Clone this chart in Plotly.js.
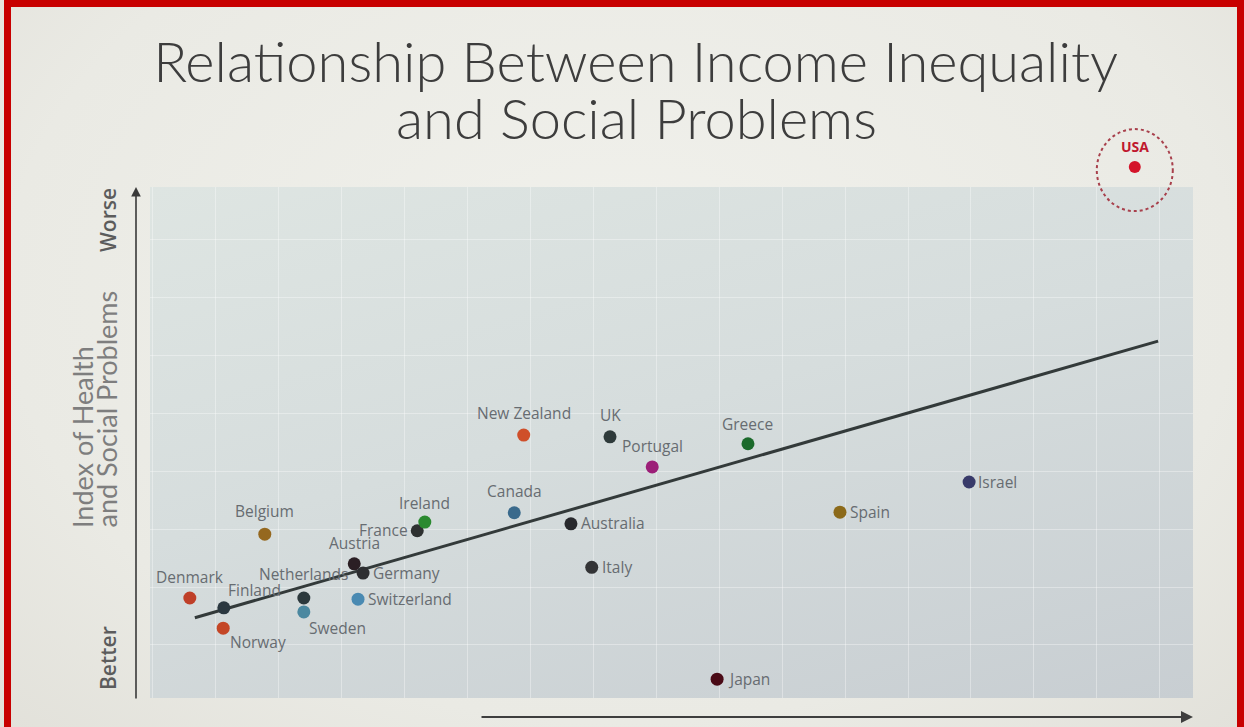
<!DOCTYPE html>
<html>
<head>
<meta charset="utf-8">
<script src="https://cdn.plot.ly/plotly-3.0.1.min.js"></script>
<style>
  html, body { margin:0; padding:0; width:1244px; height:727px; overflow:hidden;
    background: radial-gradient(ellipse at 50% 40%, #f1f1ec 0%, #eaeae4 70%, #e2e1da 100%); }
  #panel { position:absolute; left:150px; top:187px; width:1043px; height:511px;
    background: linear-gradient(165deg, #dee5e2 0%, #d6dddd 45%, #c8ced2 100%); }
  #chart { position:absolute; left:0; top:0; width:1244px; height:727px; }
  #frame { position:absolute; left:4px; top:0; width:1240px; height:727px;
    border-top:7px solid #c80000; border-left:7px solid #c80000; border-right:7px solid #c80000;
    box-sizing:border-box; pointer-events:none; }
</style>
</head>
<body>
<div id="panel"></div>
<div id="chart"></div>
<div id="frame"></div>
<script>
// ---- data (arbitrary index units) ----
const countries = ["Denmark","Finland","Norway","Belgium","Netherlands","Sweden","Austria","Germany",
  "Switzerland","France","Ireland","Canada","New Zealand","UK","Australia","Italy","Portugal",
  "Greece","Japan","Spain","Israel"];
const incomeInequality = [0.60,1.14,1.13,1.79,2.41,2.41,3.21,3.35,3.27,4.21,4.33,5.75,5.90,7.27,6.65,6.98,7.94,9.46,8.97,10.92,12.97];
const socialProblems   = [1.81,1.64,1.29,2.91,1.81,1.57,2.40,2.24,1.79,2.97,3.12,3.28,4.62,4.59,3.09,2.34,4.07,4.47,0.41,3.29,3.81];
const usaName = "USA";
const usaInequality = 15.60;
const usaProblems = 9.24;
const trendX = [0.68, 15.97];
const trendY = [1.47, 6.24];

// ---- styles (colours and label placement, in pixels) ----
const markerColors = ["#bf3f28","#2b3840","#c44626","#95681f","#2c393d","#4b88a0","#2b1f24","#2d2e31",
  "#4a8ab2","#2e3131","#2b8a30","#3a6a8c","#cf4f2a","#2e3a3a","#28292d","#333436","#9c1f78",
  "#1b6a2b","#4a0a16","#8c6a1a","#383a6a"];
const labelAnchor = ["center","left","left","center","center","left","center","left","left","right",
  "center","center","center","center","left","left","center","center","left","left","left"];
const labelDx = [0,2,5,0,0,3,0,8,8,-7,0,0,0,0,8,8,0,0,9,8,7];
const labelDy = [21,18,-14,23,24,-16,21,0,0,1,19,22,22,22,1,0,21,20,0,0,0];

const xRange = [-0.032, 16.524];
const yRange = [0.086, 8.897];
// plot region: x 150..1193, y 120..698 ; panel (main y axis) y 187..698
const plotH = 578, panelH = 511, plotW = 1043;
const y2Range = [yRange[0], yRange[0] + (yRange[1]-yRange[0]) * plotH / panelH];
const px2paperX = px => (px - 150) / plotW;
const px2paperY = py => (698 - py) / plotH;

const labelFont = {family:"Open Sans, sans-serif", size:15.5, color:"#676c71"};

const traces = [
  { type:"scatter", mode:"lines", x:trendX, y:trendY, hoverinfo:"skip",
    line:{color:"#333a3a", width:3}, showlegend:false },
  { type:"scatter", mode:"markers", x:incomeInequality, y:socialProblems, text:countries,
    showlegend:false, marker:{size:13, color:markerColors} },
  { type:"scatter", mode:"markers", x:[usaInequality], y:[usaProblems], text:[usaName],
    xaxis:"x2", yaxis:"y2", showlegend:false, marker:{size:12, color:"#d4142a"} }
];

const countryLabels = countries.map((c, i) => ({
  text:c, x:incomeInequality[i], y:socialProblems[i], xref:"x", yref:"y",
  xanchor:labelAnchor[i], yanchor:"middle", xshift:labelDx[i], yshift:labelDy[i],
  showarrow:false, font:labelFont
}));

const xu = (xRange[1]-xRange[0]) / plotW;     // data units per pixel (x)
const yu = (y2Range[1]-y2Range[0]) / plotH;   // data units per pixel (y2)

const layout = {
  width:1244, height:727,
  margin:{l:150, r:51, t:120, b:29},
  paper_bgcolor:"rgba(0,0,0,0)", plot_bgcolor:"rgba(0,0,0,0)",
  title:{ text:"Relationship Between Income Inequality", x:0.511, xanchor:"center",
    y:1-62/727, yanchor:"middle",
    font:{family:"Lato, sans-serif", size:56, color:"#3d3d3d", weight:300} },
  xaxis:{ domain:[0,1], range:xRange, dtick:1, tick0:0, showticklabels:false, zeroline:false, showline:false,
    showgrid:true, gridcolor:"rgba(255,255,255,0.35)", gridwidth:1, ticks:"", anchor:"y" },
  yaxis:{ domain:[0, panelH/plotH], range:yRange, dtick:1, tick0:0, showticklabels:false, zeroline:false,
    showline:false, showgrid:true, gridcolor:"rgba(255,255,255,0.35)", gridwidth:1, ticks:"", anchor:"x" },
  xaxis2:{ domain:[0,1], range:xRange, visible:false, anchor:"y2" },
  yaxis2:{ domain:[0,1], range:y2Range, visible:false, anchor:"x2" },
  shapes:[
    { type:"circle", xref:"x2", yref:"y2",
      x0:usaInequality-38*xu, x1:usaInequality+38*xu,
      y0:usaProblems-44*yu, y1:usaProblems+38*yu,
      line:{color:"#a8404c", width:2, dash:"dot"} }
  ],
  annotations: countryLabels.concat([
    { text:"<b>"+usaName+"</b>", x:usaInequality, y:usaProblems, xref:"x2", yref:"y2",
      xanchor:"center", yanchor:"middle", yshift:21, showarrow:false,
      font:{family:"Open Sans, sans-serif", size:14, color:"#c0182e"} },
    { text:"and Social Problems", xref:"paper", yref:"paper", x:px2paperX(636), y:px2paperY(118),
      xanchor:"center", yanchor:"middle", showarrow:false,
      font:{family:"Lato, sans-serif", size:56, color:"#3d3d3d", weight:300} },
    { text:"Index of Health", xref:"paper", yref:"paper", x:px2paperX(82), y:px2paperY(530),
      xanchor:"center", yanchor:"bottom", textangle:-90, showarrow:false,
      font:{family:"Lato, sans-serif", size:27, color:"#7e7e7e", weight:400} },
    { text:"and Social Problems", xref:"paper", yref:"paper", x:px2paperX(106), y:px2paperY(530),
      xanchor:"center", yanchor:"bottom", textangle:-90, showarrow:false,
      font:{family:"Lato, sans-serif", size:27, color:"#7e7e7e", weight:400} },
    { text:"Worse", xref:"paper", yref:"paper", x:px2paperX(108), y:px2paperY(220),
      xanchor:"center", yanchor:"middle", textangle:-90, showarrow:false,
      font:{family:"Open Sans, sans-serif", size:21, color:"#5c5c5c", weight:600} },
    { text:"Better", xref:"paper", yref:"paper", x:px2paperX(108), y:px2paperY(658),
      xanchor:"center", yanchor:"middle", textangle:-90, showarrow:false,
      font:{family:"Open Sans, sans-serif", size:21, color:"#5c5c5c", weight:600} },
    { text:"", xref:"paper", yref:"paper", x:px2paperX(136), y:px2paperY(187), ax:0, ay:513,
      showarrow:true, arrowhead:2, arrowsize:1.2, arrowwidth:1.6, arrowcolor:"#3a3a3a" },
    { text:"", xref:"paper", yref:"paper", x:px2paperX(1193), y:px2paperY(717), ax:-713, ay:0,
      showarrow:true, arrowhead:2, arrowsize:1.2, arrowwidth:2, arrowcolor:"#3e3e3e" }
  ])
};

Plotly.newPlot("chart", traces, layout, {displayModeBar:false, staticPlot:true});
</script>
</body>
</html>
